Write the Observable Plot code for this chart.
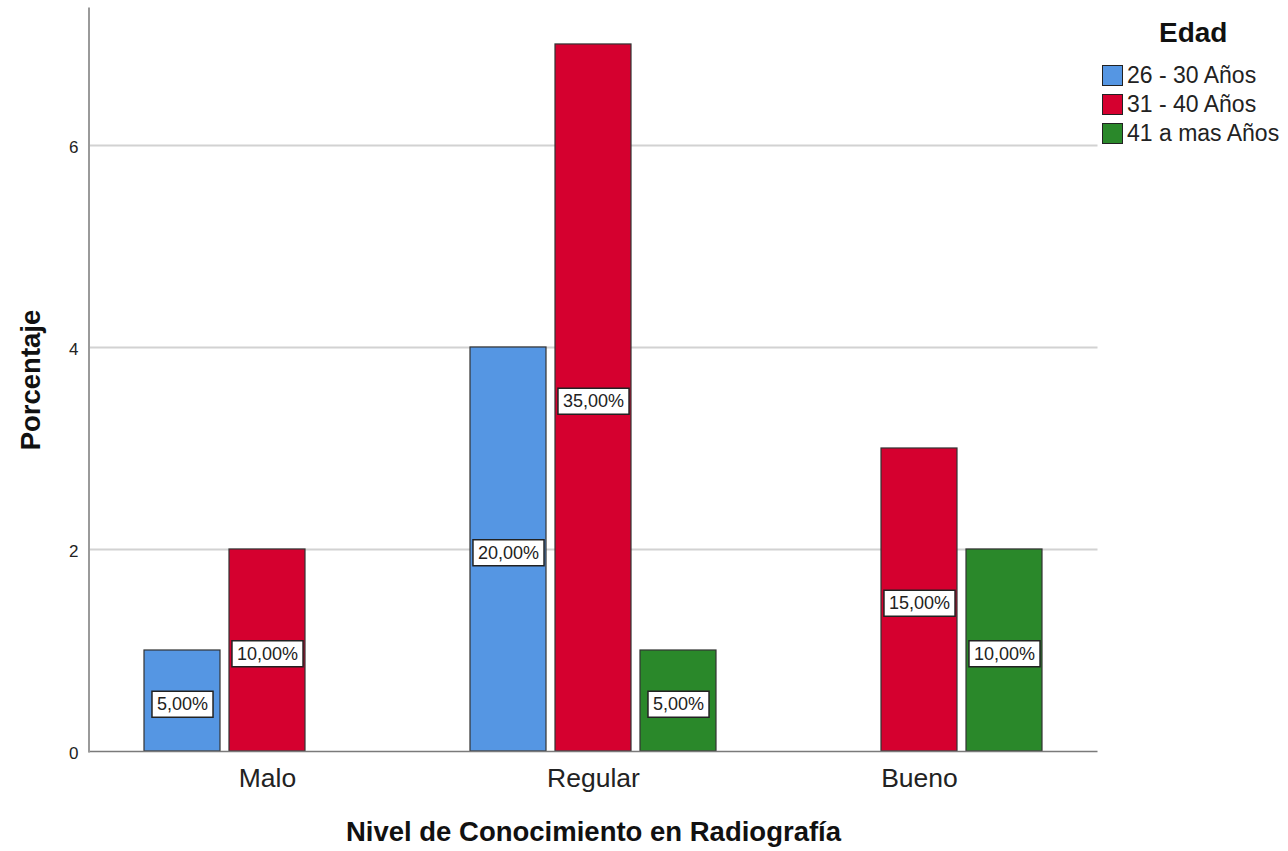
<!DOCTYPE html>
<html>
<head>
<meta charset="utf-8">
<script src="https://cdn.jsdelivr.net/npm/d3@7"></script>
<script src="https://cdn.jsdelivr.net/npm/@observablehq/plot@0.6"></script>
<style>
  body { margin: 0; background: #fff; font-family: "Liberation Sans", Arial, sans-serif; }
  #wrap { position: relative; width: 1288px; height: 851px; }
  #legend { position: absolute; left: 1102px; top: 16px; color: #222; }
  #legend .title { font-weight: bold; font-size: 28px; margin-left: 57px; margin-bottom: 11px; color: #111; line-height: 34px; }
  #legend .row { display: flex; align-items: center; height: 29px; font-size: 23px; }
  #legend .sw { width: 21px; height: 21px; border: 1.5px solid #222; box-sizing: border-box; margin-right: 4px; }
</style>
</head>
<body>
<div id="wrap"><div id="legend"></div></div>
<script>
// ---- data ----
const categories = ["Malo", "Regular", "Bueno"];
const series = ["26 - 30 Años", "31 - 40 Años", "41 a mas Años"];
const colors = ["#5596e3", "#d5002f", "#2a882a"];
// values per category, in series order (null = no bar)
const maloValues = [1, 2, null];
const regularValues = [4, 7, 1];
const buenoValues = [null, 3, 2];
const maloLabels = ["5,00%", "10,00%", null];
const regularLabels = ["20,00%", "35,00%", "5,00%"];
const buenoLabels = [null, "15,00%", "10,00%"];
const yTicks = [0, 2, 4, 6];
const yTitle = "Porcentaje";
const xTitle = "Nivel de Conocimiento en Radiografía";
const legendTitle = "Edad";

const valueRows = [maloValues, regularValues, buenoValues];
const labelRows = [maloLabels, regularLabels, buenoLabels];
const data = [];
categories.forEach((c, i) => {
  series.forEach((s, j) => {
    if (valueRows[i][j] != null) data.push({cat: c, series: s, value: valueRows[i][j], label: labelRows[i][j]});
  });
});

const ext = 15.5; // grid extends past outer facets to the frame edges

// horizontal rules per facet, extended to the frame edges on the outer facets
function hRules(values, style) {
  return categories.map((c, i) => Plot.ruleY(values, {
    fx: () => c,
    y: d => d,
    insetLeft: i === 0 ? -ext : 0,
    insetRight: i === categories.length - 1 ? -ext : 0,
    ...style
  }));
}

const plot = Plot.plot({
  width: 1288,
  height: 851,
  marginLeft: 88,
  marginRight: 190,
  marginTop: 8,
  marginBottom: 100,
  style: {fontFamily: "Liberation Sans, Arial, sans-serif", background: "white", color: "#222"},
  fx: {domain: categories, paddingInner: 0, paddingOuter: 0.0475, axis: null},
  x: {domain: series, paddingInner: 0.105, paddingOuter: 0.449, axis: null},
  y: {domain: [0, 7.356], axis: null},
  color: {domain: series, range: colors},
  marks: [
    ...hRules(yTicks.filter(d => d > 0), {stroke: "#d2d2d2", strokeWidth: 2}),
    Plot.barY(data, {fx: "cat", x: "series", y: "value", fill: "series", stroke: "#333", strokeWidth: 1.2}),
    ...hRules([0], {stroke: "#7a7a7a", strokeWidth: 1.5}),
    Plot.frame({anchor: "left", facet: "super", insetLeft: -ext, stroke: "#9a9a9a", strokeWidth: 2}),
    Plot.text(yTicks, {fx: () => categories[0], y: d => d, text: d => String(d), frameAnchor: "left", textAnchor: "end", dx: -26, dy: 2, fontSize: 17, fill: "#222"}),
    Plot.text(categories, {fx: d => d, text: d => d, frameAnchor: "bottom", dy: 35, fontSize: 26.5, fill: "#222"}),
    Plot.text([xTitle], {facet: "super", text: d => d, frameAnchor: "bottom", dy: 89, fontSize: 27.5, fontWeight: "bold", fill: "#111"}),
    Plot.text([yTitle], {facet: "super", text: d => d, frameAnchor: "left", textAnchor: "middle", dx: -73.5, rotate: -90, fontSize: 27.5, fontWeight: "bold", fill: "#111"}),
    Plot.text(data, {fx: "cat", x: "series", y: d => d.value / 2, text: "label", dy: 3.5, fontSize: 18, fill: "#222"})
  ]
});

const wrap = document.getElementById("wrap");
wrap.insertBefore(plot, wrap.firstChild);

// white boxes behind the bar labels
const labelSet = new Set(data.map(d => d.label));
plot.querySelectorAll("text").forEach(t => {
  if (!labelSet.has(t.textContent)) return;
  const b = t.getBBox();
  const r = document.createElementNS("http://www.w3.org/2000/svg", "rect");
  r.setAttribute("x", b.x - 5);
  r.setAttribute("y", b.y - 3);
  r.setAttribute("width", b.width + 10);
  r.setAttribute("height", b.height + 6);
  r.setAttribute("fill", "white");
  r.setAttribute("stroke", "#222");
  r.setAttribute("stroke-width", "1.5");
  const tr = t.getAttribute("transform");
  if (tr) r.setAttribute("transform", tr);
  t.parentNode.insertBefore(r, t);
});

// legend
const legend = document.getElementById("legend");
const lt = document.createElement("div");
lt.className = "title";
lt.textContent = legendTitle;
legend.appendChild(lt);
series.forEach((s, i) => {
  const row = document.createElement("div");
  row.className = "row";
  const sw = document.createElement("div");
  sw.className = "sw";
  sw.style.background = colors[i];
  const tx = document.createElement("span");
  tx.textContent = s;
  row.appendChild(sw);
  row.appendChild(tx);
  legend.appendChild(row);
});
</script>
</body>
</html>
